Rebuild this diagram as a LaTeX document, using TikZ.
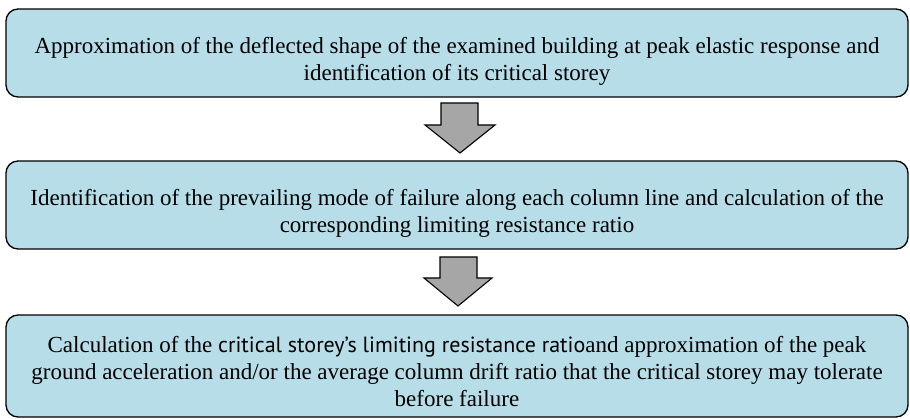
\documentclass[tikz,border=0pt]{standalone}
\usepackage{fontspec}
\setmainfont{Liberation Serif}
\newfontfamily\myriadlike{PT Sans}
\definecolor{boxblue}{HTML}{B7DDE8}
\definecolor{arrowgray}{HTML}{A6A6A6}
\begin{document}
\begin{tikzpicture}[x=1pt,y=-1pt,
  box/.style={draw=black, line width=1.3pt, fill=boxblue, rounded corners=12pt, inner sep=0pt},
  boxtext/.style={align=center, font=\fontsize{23}{27}\selectfont, inner sep=0pt},
  blockarrow/.style={draw=black, line width=1.1pt, fill=arrowgray, line join=miter}]
\useasboundingbox (0,0) rectangle (910,419);
% boxes
\node[box, minimum width=902pt, minimum height=88pt] (b1) at (457,53) {};
\node[box, minimum width=902pt, minimum height=88pt] (b2) at (457,205) {};
\node[box, minimum width=902pt, minimum height=102pt] (b3) at (457,366) {};
% texts
\node[boxtext] (t1) at (457,61) {Approximation of the deflected shape of the examined building at peak elastic response and\\identification of its critical storey};
\node[boxtext] (t2) at (457,213) {Identification of the prevailing mode of failure along each column line and calculation of the\\corresponding limiting resistance ratio};
\node[boxtext] (t3) at (457,372) {Calculation of the {\myriadlike\fontsize{22}{27}\selectfont critical storey’s limiting resistance ratio}and approximation of the peak\\ground acceleration and/or the average column drift ratio that the critical storey may tolerate\\before failure};
% block arrows
\draw[blockarrow] (441,103) -- (478,103) -- (478,125) -- (495,125) -- (460,153) -- (425,125) -- (441,125) -- cycle;
\draw[blockarrow] (440,257) -- (477,257) -- (477,278) -- (492,278) -- (458,306) -- (424,278) -- (440,278) -- cycle;
\end{tikzpicture}
\end{document}
